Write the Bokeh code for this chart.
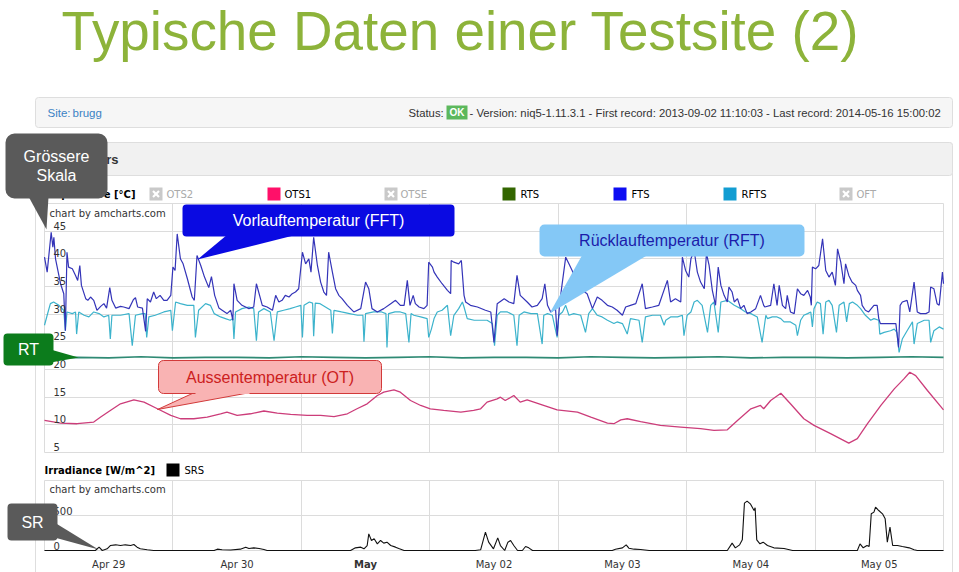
from bokeh.plotting import figure
from bokeh.models import (Range1d, LinearAxis, FixedTicker, Grid, BoxAnnotation,
                          PolyAnnotation, Label)
from bokeh.embed import file_html
from bokeh.resources import INLINE
from bokeh.core.properties import value

# ---------------- data (hours since Apr 29 00:00) ----------------
day_ticks = [0, 24, 48, 72, 96, 120, 144, 168]
day_label_pos = [12, 36, 84, 108, 132, 156]
day_labels = ["Apr 29", "Apr 30", "May 02", "May 03", "May 04", "May 05"]
month_label_pos = [60]
month_labels = ["May"]
temp_ticks = [5, 10, 15, 20, 25, 30, 35, 40, 45]
temp_grid = [5, 10, 15, 20, 25, 30, 35, 40, 45, 50]
irr_ticks = [0, 500]
irr_grid = [0, 500, 1000]

fts_t = [0, 0.5, 1.25, 1.56, 1.75, 2.06, 3.0, 3.6, 3.9, 4.2, 4.5, 5.2, 5.8, 6.2, 6.6, 6.9, 7.7, 8.1, 8.6, 9.2,
         9.8, 10.5, 11.1, 11.6, 12.2, 12.6, 13.3, 14.2, 14.8, 15.8, 16.6, 17.0, 17.4, 18.3, 18.9, 19.2, 19.8,
         20.4, 20.9, 21.6, 22.3, 22.9, 23.6, 24.0,
         24.4, 24.8, 25.4, 25.9, 26.7, 27.6, 28.0, 28.5, 29.2, 29.9, 30.7, 31.2, 31.8, 32.6, 33.2, 34.1, 34.8,
         35.2, 35.4, 36.0, 36.9, 38.2, 39.1, 39.6, 40.7, 41.6, 42.6, 43.2, 43.8, 44.4, 45.0, 45.7, 46.3, 46.9,
         47.5, 48.2, 48.8, 49.4, 49.8, 50.3, 51.0, 51.6, 52.2, 52.7, 53.1, 53.8, 54.4, 55.0, 55.6, 56.6, 57.8,
         59.1, 60.0, 60.6, 61.2, 62.2, 63.4, 64.7, 65.6, 66.5,
         67.2, 67.8, 68.3, 68.9, 69.3, 70.0, 70.9, 71.5, 71.8, 72.5, 72.8, 73.4, 74.3, 75.3, 75.9, 76.0, 76.5,
         77.4, 77.9, 78.4, 78.7, 79.6, 80.9, 82.4, 83.4, 84.0, 84.6, 85.9, 86.8, 87.7, 88.3, 88.9, 90.2, 91.1,
         92.1, 93.0, 93.5, 94.0, 94.6, 95.5, 95.8, 96.3, 96.7, 97.4, 98.0, 98.6, 99.4, 100.2,
         101.4, 102.4, 103.3, 104.2, 105.2, 106.1, 107.0, 108.0, 108.6, 109.5, 110.5, 111.7, 112.3, 113.6,
         114.8, 116.4, 117.0, 117.9, 118.9, 119.2, 119.8, 120.4, 120.8, 121.4, 122.0, 122.6, 123.3, 123.7,
         124.2, 124.8, 125.4, 125.9, 126.4, 127.0, 127.6, 127.9, 128.5, 128.9, 129.5, 130.1, 130.7, 131.3,
         132.0, 132.9, 133.8, 134.4,
         134.6, 135.7, 136.3, 136.9, 137.3, 137.9, 138.5, 138.8, 139.4, 140.1, 140.7, 141.3, 141.9, 142.6,
         143.1, 143.3, 143.5, 144.1, 144.7, 145.4, 146.0, 146.6, 147.2, 147.8, 148.2, 148.8, 149.4, 149.7,
         150.3, 150.9, 151.6, 151.9, 152.5, 152.8, 153.4, 154.0, 155.0, 155.6, 155.9, 156.2, 157.5, 159.1,
         159.6, 159.9, 160.3, 161.2, 161.7, 162.5, 163.1, 163.7, 164.7, 165.3, 165.6, 166.2, 166.8, 167.2,
         167.8, 168.0]
fts_v = [40.3, 37.6, 44.8, 42.1, 43.9, 40.0, 35.5, 33.7, 27.0, 41.2, 38.5, 38.2, 37.0, 36.1, 38.8, 35.2, 32.8,
         32.5, 33.1, 32.5, 30.7, 31.4, 31.9, 31.1, 34.8, 32.5, 31.1, 31.4, 31.3, 31.0, 32.6, 33.0, 31.3, 31.1,
         26.9, 32.8, 32.2, 34.0, 32.8, 33.4, 32.5, 32.5, 33.4, 38.5,
         37.9, 44.5, 40.0, 39.1, 36.4, 33.1, 32.5, 40.6, 38.8, 36.7, 34.8, 36.8, 33.4, 31.1, 30.7, 30.1, 30.7,
         28.9, 35.5, 32.5, 31.6, 31.0, 31.3, 35.5, 31.6, 31.3, 30.7, 33.4, 32.2, 32.5, 33.4, 33.1, 33.7, 34.0,
         34.6, 41.2, 39.1, 40.0, 37.6, 43.9, 38.8, 35.8, 34.0, 33.4, 41.2, 37.6, 34.6, 33.4, 32.8, 31.6, 30.4,
         31.0, 35.8, 34.6, 31.0, 30.4, 31.0, 31.9, 32.5, 31.6,
         31.6, 36.1, 31.6, 33.4, 31.9, 31.3, 31.0, 31.6, 39.4, 38.5, 37.6, 36.7, 35.5, 34.3, 33.7, 39.7, 39.4,
         39.1, 39.7, 33.4, 32.2, 31.6, 31.3, 30.7, 30.4, 24.9, 31.9, 32.8, 32.2, 31.9, 37.0, 33.4, 32.2, 31.3,
         31.6, 32.8, 35.5, 31.6, 30.4, 31.0, 26.1, 32.2, 35.2, 40.3, 39.1, 37.9, 36.0, 34.5,
         33.7, 31.0, 33.1, 32.5, 31.6, 31.3, 30.7, 29.8, 31.3, 31.6, 31.9, 35.5, 31.0, 31.3,
         31.6, 36.1, 32.2, 32.8, 32.2, 40.3, 37.9, 36.7, 40.0, 41.5, 37.6, 35.8, 34.6, 41.0,
         38.8, 34.3, 31.6, 38.5, 35.2, 33.4, 32.2, 34.9, 34.0, 32.2, 32.8, 31.0, 31.6, 30.1,
         30.4, 31.0, 33.4, 31.6,
         31.3, 31.6, 35.5, 31.6, 35.2, 31.6, 31.0, 33.4, 30.4, 30.1, 34.6, 33.7, 33.4, 34.3,
         33.1, 31.6, 38.5, 38.2, 38.8, 43.6, 37.9, 36.7, 37.6, 35.2, 41.8, 39.4, 35.5, 39.1,
         37.0, 35.8, 35.2, 34.3, 33.4, 31.6, 30.7, 30.4, 31.6, 31.6, 29.2, 28.3, 28.3, 28.3,
         24.0, 31.6, 32.2, 32.5, 30.4, 35.8, 30.4, 30.1, 30.1, 30.4, 34.9, 34.6, 31.9, 31.6,
         37.6, 35.5]

rfts_t = [0, 0.5, 1.1, 1.7, 2.7, 3.6, 3.9, 4.2, 5.2, 5.8, 6.0, 6.4, 7.4, 8.3, 9.2, 10.2, 11.1, 12.0, 12.3, 12.6,
          14.2, 15.8, 16.4, 17.0, 18.3, 18.8, 19.1, 19.5, 20.7, 22.3, 23.6, 23.9, 24.5, 25.4, 26.7, 27.9, 28.2,
          28.8, 30.1, 31.0, 31.7, 32.9,
          33.8, 34.7, 35.2, 35.4, 35.7, 36.9, 38.2, 39.1, 39.6, 40.0, 41.0, 42.2, 42.9, 43.5, 44.7, 45.9, 46.9,
          47.9, 48.2, 48.5, 49.5, 50.1, 50.3, 50.6, 51.5, 52.5, 53.5, 53.8, 54.1, 55.5, 57.0, 58.5, 59.5, 59.7,
          60.0, 61.5, 63.0, 63.8, 64.0, 64.3, 65.5, 66.5,
          67.5, 68.1, 68.5, 69.0, 70.3, 71.5, 71.8, 72.3, 72.8, 73.4, 74.3, 75.3, 75.9, 76.5, 77.4, 78.1, 78.4,
          79.0, 80.3, 81.5, 82.7, 83.7, 84.1, 84.6, 85.2, 86.5, 87.7, 88.3, 88.7, 89.6, 90.9, 92.1, 93.0, 93.3,
          94.0, 94.9, 95.8, 96.1, 96.8, 97.4, 98.0, 98.9,
          100.2, 101.1, 101.7, 102.4, 103.3, 104.2, 105.2, 106.4, 107.0, 108.0, 108.9, 109.5, 111.1, 111.7,
          112.3, 113.6, 115.1, 115.8, 116.1, 117.0, 118.3, 119.2, 119.5, 120.1, 120.8, 121.4, 122.0, 122.9,
          123.9, 124.5, 125.1, 125.9, 126.4, 127.6, 128.9, 130.1, 131.0, 132.0, 133.2, 134.1, 134.8,
          135.1, 136.0, 136.9, 137.6, 138.2, 139.4, 140.4, 140.7, 141.3, 141.9, 142.6, 143.2, 143.5, 143.8,
          144.4, 145.0, 145.5, 146.0, 146.6, 147.2, 148.0, 148.5, 149.4, 149.9, 150.4, 151.0, 151.9, 152.5,
          153.4, 154.4, 155.0, 155.9, 156.1, 156.9, 158.1, 158.8, 159.3, 159.7, 160.3, 161.2, 162.2, 162.5,
          163.1, 164.4, 165.3, 165.6, 166.2, 167.2, 168.0]
rfts_v = [28.0, 29.8, 31.9, 32.2, 31.6, 30.7, 27.0, 30.4, 30.1, 30.4, 26.4, 30.4, 29.8, 29.5, 30.4, 30.1, 29.5,
          29.8, 25.5, 29.8, 29.8, 30.1, 24.3, 29.8, 30.1, 30.1, 25.8, 29.5, 29.8, 30.4, 30.7, 27.0, 32.2, 31.9,
          31.6, 31.6, 25.8, 30.7, 31.9, 31.6, 30.1, 29.5,
          29.2, 28.9, 29.2, 25.5, 30.4, 31.0, 31.3, 31.0, 25.2, 30.4, 31.0, 30.4, 25.2, 30.4, 30.7, 31.0, 31.3,
          31.6, 25.8, 31.6, 32.2, 32.0, 26.0, 32.0, 31.9, 31.3, 30.7, 26.5, 30.7, 30.4, 30.1, 29.8, 29.8, 25.0,
          30.1, 30.4, 30.4, 30.1, 24.0, 30.1, 30.4, 30.4,
          30.1, 24.9, 30.1, 29.8, 29.5, 29.2, 25.8, 27.3, 29.2, 30.4, 30.7, 31.6, 26.1, 29.8, 31.0, 32.2, 31.3,
          29.2, 28.9, 28.9, 28.9, 28.3, 24.3, 29.8, 30.4, 30.4, 29.8, 24.3, 29.8, 30.4, 30.1, 30.1, 24.6, 29.8,
          30.1, 29.8, 25.8, 29.8, 30.4, 31.6, 29.8, 30.1,
          29.8, 26.7, 30.1, 31.0, 29.8, 29.5, 28.9, 28.3, 28.6, 28.3, 26.4, 29.2, 28.9, 24.9,
          29.5, 29.8, 29.8, 28.0, 28.9, 29.5, 29.5, 29.8, 26.1, 29.8, 30.4, 32.2, 32.5, 31.6,
          26.7, 31.6, 32.2, 26.7, 32.2, 32.5, 31.6, 31.0, 30.4, 30.1, 29.5, 24.9, 29.8,
          29.2, 29.5, 29.5, 29.2, 28.6, 28.6, 28.0, 26.1, 28.9, 29.8, 30.1, 30.4, 27.7, 31.0,
          32.2, 31.9, 26.4, 32.2, 32.5, 31.6, 26.7, 31.6, 32.2, 28.6, 31.9, 32.2, 31.6, 31.0,
          29.8, 28.9, 29.2, 28.9, 26.4, 26.7, 27.0, 27.3, 26.7, 23.1, 25.5, 27.0, 28.6, 24.6,
          28.3, 28.9, 28.9, 24.9, 27.0, 27.7, 27.3]

rts_t = [0, 6, 12, 18, 24, 30, 36, 42, 48, 54, 60, 66, 72, 78, 84, 90, 96, 102, 108, 114, 120, 126, 132, 138,
         144, 150, 156, 162, 168]
rts_v = [22.1, 22.2, 22.1, 22.3, 22.1, 22.2, 22.2, 22.1, 22.3, 22.2, 22.1, 22.2, 22.3, 22.1, 22.2, 22.2, 22.1,
         22.3, 22.2, 22.1, 22.2, 22.3, 22.1, 22.2, 22.2, 22.1, 22.2, 22.3, 22.2]

ot_t = [0, 3.0, 6.1, 9.2, 10.5, 12.3, 14.2, 16.7, 18.6, 21.1, 23.6, 25.4, 27.9, 30.4, 32.9, 34.1, 36.0, 38.5,
        41.0, 43.5, 46.0, 49.1, 51.6, 54.1, 56.6, 58.4, 60.3, 62.2, 63.4, 65.3, 66.5, 68.4, 70.3, 72.1, 74.6,
        77.8, 80.2, 81.5, 82.7, 84.6, 85.2, 86.1, 87.7, 88.9, 90.2, 92.7, 95.8, 99.6, 102.1, 105.2, 106.4,
        107.7, 108.9, 111.4, 115.1, 118.9, 122.6, 125.1, 127.6, 129.5, 132.0, 133.8, 134.4, 135.7, 137.6,
        139.4, 141.9, 143.8, 146.9, 150.3, 151.9, 153.8, 156.3, 158.8, 160.6, 161.7, 162.8, 165.0, 168.0]
ot_v = [10.8, 10.3, 10.2, 10.5, 11.4, 12.6, 13.8, 14.5, 14.1, 12.9, 11.7, 11.1, 11.1, 11.4, 12.0, 12.3, 11.7,
        12.0, 12.5, 12.1, 11.9, 11.7, 11.7, 11.5, 12.0, 12.9, 13.8, 15.3, 15.9, 16.3, 15.9, 14.4, 13.5, 12.9,
        12.6, 12.3, 12.6, 12.9, 14.1, 14.7, 15.0, 14.4, 15.3, 14.1, 14.5, 13.7, 12.7, 12.3, 11.4, 10.3, 10.2,
        10.9, 11.1, 10.6, 9.9, 9.6, 9.3, 9.0, 9.1, 10.8, 12.9, 13.5, 12.9, 14.4, 15.7,
        13.8, 11.1, 9.9, 8.4, 6.7, 7.5, 10.2, 13.5, 16.5, 18.3, 19.5, 18.9, 16.2, 12.7]

srs_t = [0, 9.5, 10.2, 10.8, 11.7, 12.3, 13.3, 14.2, 15.1, 16.1, 16.7, 17.3, 17.9, 19.2, 20.4,
         31.7, 32.3, 33.2, 34.8, 36.6, 37.6, 38.2, 39.1, 40.1, 41.0, 41.6,
         57.2, 58.1, 59.1, 59.7, 60.3, 60.6, 61.1, 61.6, 62.2, 62.8, 63.4, 64.0, 64.7, 65.6, 66.2, 67.2,
         80.5, 81.5, 82.4, 83.0, 83.9, 84.7, 85.2, 86.0, 86.6, 87.1, 87.7, 88.4, 89.3, 89.9, 90.5, 91.2,
         106.1, 106.7, 108.0, 108.7, 109.2, 110.2, 111.4, 113.0,
         127.6, 128.5, 129.1, 129.9, 130.4, 130.8, 131.3, 131.9, 132.6, 132.8, 133.1, 133.7, 134.3, 135.1,
         136.3, 138.2, 139.8,
         151.9, 152.4, 153.0, 153.7, 154.1, 154.5, 155.0, 155.3, 155.9, 156.6, 157.1, 157.5, 158.0, 158.5,
         159.4, 160.3, 161.6, 162.5, 163.1, 168.0]
srs_v = [0, 0, 48, 0, 24, 71, 81, 71, 81, 71, 86, 48, 24, 10, 0,
         0, 19, 10, 8, 19, 48, 29, 38, 29, 14, 0,
         0, 38, 48, 24, 71, 238, 143, 167, 95, 143, 105, 119, 71, 48, 29, 0,
         0, 10, 262, 119, 24, 181, 71, 0, 119, 143, 71, 0, 0, 57, 38, 0,
         0, 19, 38, 81, 33, 19, 14, 0,
         0, 105, 38, 81, 152, 676, 705, 667, 571, 610, 152, 95, 119, 71,
         38, 29, 0,
         0, 95, 38, 71, 57, 524, 548, 619, 571, 524, 452, 119, 333, 71,
         71, 57, 38, 10, 0, 0]

# ---------------- layout (pixels of the 959x572 slide) ----------------
W, H = 959, 572
PX_T0, PX_T1 = 44, 943        # x of first / last hour
PY_T50, PY_T5 = 203, 452      # y of 50 and 5 degC
PY_I1000, PY_I0 = 480, 550    # y of 1000 and 0 W/m^2
LBL_UP = 5.5                  # amCharts prints values just above the grid line

kx = 168.0 / (PX_T1 - PX_T0)
kt = 45.0 / (PY_T5 - PY_T50)
ki = 1000.0 / (PY_I0 - PY_I1000)

p = figure(width=W, height=H, x_range=Range1d(0, W), y_range=Range1d(H, 0),
           x_axis_type=None, y_axis_type=None, toolbar_location=None,
           output_backend="svg", min_border=0, outline_line_color=None)
p.min_border_left = p.min_border_right = p.min_border_top = p.min_border_bottom = 0
p.background_fill_color = "white"
p.border_fill_color = "white"

p.extra_x_ranges = {"t": Range1d(-PX_T0 * kx, (W - PX_T0) * kx)}
t_lo, t_hi = 5 - (H - PY_T5) * kt, 5 + PY_T5 * kt
i_lo, i_hi = -(H - PY_I0) * ki, PY_I0 * ki
p.extra_y_ranges = {
    "temp": Range1d(t_lo, t_hi),
    "templbl": Range1d(t_lo - LBL_UP * kt, t_hi - LBL_UP * kt),
    "irr": Range1d(i_lo, i_hi),
    "irrlbl": Range1d(i_lo - 5 * ki, i_hi - 5 * ki),
}

def box(l, r, t, b, fill, line=None, radius=0, level="annotation", lw=1):
    p.add_layout(BoxAnnotation(left=l, right=r, top=t, bottom=b, fill_color=fill, fill_alpha=1,
                               line_color=line, line_alpha=1 if line else 0, line_width=lw,
                               border_radius=radius, level=level))

def txt(x, y, s, size="10px", color="#333333", font="DejaVu Sans", style="normal", align="left"):
    p.text(x=[x], y=[y], text=[s], text_font=value(font), text_font_size=value(size),
           text_color=color, text_font_style=style, text_align=align, text_baseline="middle")

# page backgrounds
box(35, 952, 97, 127, "#f6f6f6", "#dedede", 3, "underlay")
box(35, 952, 142, 620, "#ffffff", "#dedede", 3, "underlay")
box(35, 952, 142, 175, "#f1f1f1", "#dedede", 3, "underlay")

# grids
def add_grid(dim, rname, ticks, cross):
    g = Grid(dimension=dim, ticker=FixedTicker(ticks=ticks), cross_bounds=cross,
             grid_line_color="#dcdcdc", grid_line_width=1)
    if dim == 0:
        g.x_range_name = rname
    else:
        g.y_range_name = rname
    p.add_layout(g)

add_grid(1, "temp", temp_grid, (PX_T0, PX_T1))
add_grid(0, "t", day_ticks, (PY_T50, PY_T5))
add_grid(1, "irr", irr_grid, (PX_T0, PX_T1))
add_grid(0, "t", day_ticks, (PY_I1000, PY_I0))

# title
p.add_layout(Label(x=61, y=30.5, text="Typische Daten einer Testsite (2)", text_font="Liberation Sans",
                   text_font_size="54.8px", text_color="#8db33a", text_baseline="middle",
                   level="underlay"))

# site bar
txt(47, 112, "Site:", "11.5px", "#3b82c4", "Liberation Sans")
txt(72, 112, "brugg", "11.5px", "#3b82c4", "Liberation Sans")
txt(408, 112, "Status:", "11.3px", "#333333", "Liberation Sans")
p.quad(left=[446], right=[467], top=[105], bottom=[119], fill_color="#5cb85c", line_color=None)
txt(456.5, 112, "OK", "10px", "white", "Liberation Sans", "bold", "center")
txt(469, 112, " - Version: niq5-1.11.3.1 - First record: 2013-09-02 11:10:03 - Last record: 2014-05-16 15:00:02",
    "11.3px", "#333333", "Liberation Sans")
txt(118, 159, "Sensors", "13px", "#333333", "Liberation Sans", "bold", "right")

# legend row (temperature)
def xicon(l, t):
    p.quad(left=[l], right=[l + 13], top=[t], bottom=[t + 13], fill_color="#c9c9c9", line_color=None)
    p.multi_line(xs=[[l + 3.5, l + 9.5], [l + 3.5, l + 9.5]], ys=[[t + 3.5, t + 9.5], [t + 9.5, t + 3.5]],
                 line_color="white", line_width=2.2)

def sq(l, t, c):
    p.quad(left=[l], right=[l + 13], top=[t], bottom=[t + 13], fill_color=c, line_color=None)

txt(135, 194, "Temperature [°C]", "10px", "#000000", "DejaVu Sans", "bold", "right")
xicon(149, 187); txt(166, 194, "OTS2", "10px", "#aaaaaa")
sq(267, 187, "#ff1069"); txt(284, 194, "OTS1", "10px", "#000000")
xicon(384, 187); txt(400, 194, "OTSE", "10px", "#aaaaaa")
sq(502, 187, "#336600"); txt(520, 194, "RTS", "10px", "#000000")
sq(613, 187, "#0d0df2"); txt(631, 194, "FTS", "10px", "#000000")
sq(723, 187, "#129dd2"); txt(741, 194, "RFTS", "10px", "#000000")
xicon(839, 187); txt(856, 194, "OFT", "10px", "#aaaaaa")
txt(49, 213, "chart by amcharts.com", "10px", "#333333")

# irradiance legend
txt(44, 470, "Irradiance [W/m^2]", "10px", "#000000", "DejaVu Sans", "bold")
sq(166, 463, "#000000"); txt(184, 470, "SRS", "10px", "#000000")
txt(49, 489, "chart by amcharts.com", "10px", "#333333")

# data lines
p.line(ot_t, ot_v, x_range_name="t", y_range_name="temp", line_color="#cc3d7a", line_width=1.3)
p.line(rts_t, rts_v, x_range_name="t", y_range_name="temp", line_color="#2f8a74", line_width=1.6)
p.line(rfts_t, rfts_v, x_range_name="t", y_range_name="temp", line_color="#3cb3cc", line_width=1.2)
p.line(fts_t, fts_v, x_range_name="t", y_range_name="temp", line_color="#3434b8", line_width=1.2)
p.line(srs_t, srs_v, x_range_name="t", y_range_name="irr", line_color="#111111", line_width=1.1)

# axes (amCharts-style inside labels)
def yaxis(rname, ticks):
    ax = LinearAxis(y_range_name=rname, fixed_location=PX_T0, ticker=FixedTicker(ticks=ticks),
                    axis_line_color=None, major_tick_line_color=None, minor_tick_line_color=None,
                    major_label_standoff=3, major_label_text_font="DejaVu Sans",
                    major_label_text_font_size="10px", major_label_text_color="#333333")
    p.add_layout(ax, "right")

yaxis("templbl", temp_ticks)
yaxis("irrlbl", irr_ticks)

def xaxis(pos, labels, style):
    ax = LinearAxis(x_range_name="t", fixed_location=PY_I0, ticker=FixedTicker(ticks=pos),
                    major_label_overrides={k: v for k, v in zip(pos, labels)},
                    axis_line_color=None, major_tick_line_color=None, minor_tick_line_color=None,
                    major_label_standoff=2, major_label_text_font="DejaVu Sans",
                    major_label_text_font_size="10px", major_label_text_color="#333333",
                    major_label_text_font_style=style)
    p.add_layout(ax, "below")

xaxis(day_label_pos, day_labels, "normal")
xaxis(month_label_pos, month_labels, "bold")

# callouts
def callout(l, r, t, b, fill, ptr, lines, tcolor, line=None, radius=6):
    p.add_layout(PolyAnnotation(xs=[q[0] for q in ptr], ys=[q[1] for q in ptr], fill_color=fill,
                                fill_alpha=1, line_color=line, line_alpha=1 if line else 0, line_width=1))
    box(l, r, t, b, fill, line, radius)
    cx = (l + r) / 2
    n = len(lines)
    for i, s in enumerate(lines):
        cy = (t + b) / 2 + (i - (n - 1) / 2) * 19
        p.add_layout(Label(x=cx, y=cy, text=s, text_font="Liberation Sans", text_font_size="16px",
                           text_color=tcolor, text_align="center", text_baseline="middle"))

callout(5, 107, 133, 198, "#5a5a5a", [(28, 196), (48, 196), (46, 229)], ["Grössere", "Skala"], "white",
        radius=9)
callout(182, 454, 204, 236, "#0a0ae2", [(227, 234), (297, 234), (197, 259)], ["Vorlauftemperatur (FFT)"],
        "white", radius=4)
callout(539, 804, 224, 256, "#84c8f6", [(582, 254), (648, 254), (549, 313)], ["Rücklauftemperatur (RFT)"],
        "#1c1caa", radius=5)
callout(3, 53, 333, 365, "#0c7c1c", [(50, 349), (50, 362), (78, 357)], ["RT"], "white", radius=4)
callout(158, 381, 360, 393, "#f9b3b3", [(194, 392), (250, 392), (157, 409)], ["Aussentemperatur (OT)"],
        "#cc2020", line="#d23a3a", radius=5)
box(195, 249, 389, 393.5, "#f9b3b3")
callout(7, 57, 503, 540, "#5a5a5a", [(54, 522), (54, 537), (98, 549)], ["SR"], "white", radius=4)

open("out.html", "w").write(file_html(p, INLINE))
